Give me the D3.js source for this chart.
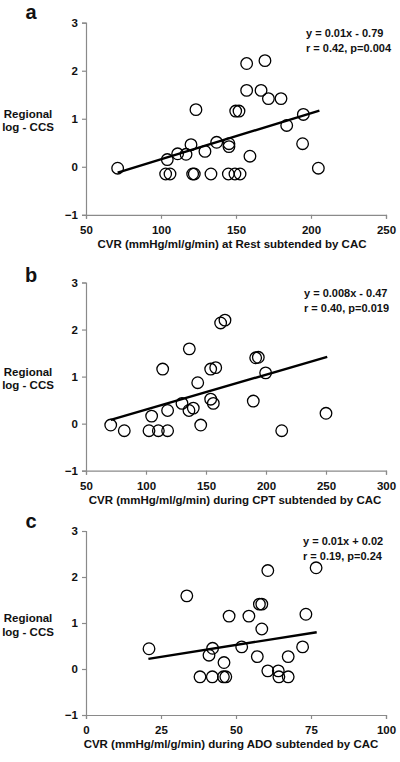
<!DOCTYPE html>
<html>
<head>
<meta charset="utf-8">
<script src="https://cdn.jsdelivr.net/npm/d3@7"></script>
<style>
  html, body { margin: 0; padding: 0; background: #fff; }
  svg { display: block; }
  text { font-family: "Liberation Sans", Arial, sans-serif; font-weight: bold; fill: #111; }
</style>
</head>
<body>
<svg id="chart" width="400" height="762"></svg>
<script>
// ---------- DATA ----------
const panelLetters = ["a", "b", "c"];
const xTitles = [
  "CVR (mmHg/ml/g/min) at Rest subtended by CAC",
  "CVR (mmHg/ml/g/min) during CPT subtended by CAC",
  "CVR (mmHg/ml/g/min) during ADO subtended by CAC"
];
const yTitleLines = ["Regional", "log - CCS"];
const equations = ["y = 0.01x - 0.79", "y = 0.008x - 0.47", "y = 0.01x + 0.02"];
const stats = ["r = 0.42, p=0.004", "r = 0.40, p=0.019", "r = 0.19, p=0.24"];
const yTicks = [-1, 0, 1, 2, 3];
const restTicks = [50, 100, 150, 200, 250];
const cptTicks = [50, 100, 150, 200, 250, 300];
const adoTicks = [0, 25, 50, 75, 100];

// Panel a: CVR at rest
const restX = [71.1, 157.1, 169.3, 157.1, 166.7, 171.6, 180.0, 123.3, 149.8, 152.0, 194.9, 183.8,
  137.1, 120.0, 145.3, 145.3, 194.4, 111.1, 116.7, 129.3, 104.2, 159.3, 204.9,
  103.1, 106.0, 121.1, 122.2, 133.3, 144.9, 149.3, 152.7];
const restY = [-0.03, 2.15, 2.21, 1.59, 1.59, 1.42, 1.42, 1.19, 1.16, 1.16, 1.09, 0.86,
  0.51, 0.46, 0.48, 0.42, 0.48, 0.27, 0.26, 0.32, 0.15, 0.22, -0.03,
  -0.15, -0.15, -0.15, -0.15, -0.15, -0.15, -0.15, -0.15];
const restFit = [[71.1, -0.12], [205.6, 1.17]];

// Panel b: CVR during CPT
const cptX = [70.6, 81.9, 102.5, 110.3, 118.0, 104.7, 118.0, 113.9, 136.1, 130.0, 135.8, 139.4,
  143.1, 145.6, 153.9, 158.1, 153.9, 156.1, 162.2, 165.8, 189.4, 191.4, 193.6, 199.7, 213.1, 250.0];
const cptY = [-0.03, -0.15, -0.15, -0.15, -0.15, 0.16, 0.28, 1.16, 1.59, 0.43, 0.28, 0.33,
  0.87, -0.03, 1.16, 1.19, 0.52, 0.43, 2.14, 2.20, 0.48, 1.40, 1.41, 1.08, -0.15, 0.22];
const cptFit = [[70.6, 0.08], [251.0, 1.42]];

// Panel c: CVR during ADO
const adoX = [21.0, 33.6, 38.0, 42.1, 45.8, 46.6, 41.0, 42.2, 46.0, 47.7, 51.9, 54.3, 57.1,
  57.8, 58.6, 58.6, 60.6, 60.6, 64.1, 64.3, 67.4, 67.4, 72.2, 73.3, 76.7];
const adoY = [0.44, 1.59, -0.17, -0.17, -0.17, -0.17, 0.30, 0.45, 0.14, 1.15, 0.48, 1.15, 0.27,
  1.41, 1.41, 0.87, 2.14, -0.04, -0.04, -0.17, -0.17, 0.27, 0.48, 1.19, 2.20];
const adoFit = [[20.8, 0.22], [76.9, 0.80]];

// ---------- LAYOUT ----------
const panels = [
  { xs: restX, ys: restY, fit: restFit, ticks: restTicks, top: 22.7, bottom: 214.8, letterY: 19, titleX: 232, eqX: 306 },
  { xs: cptX,  ys: cptY,  fit: cptFit,  ticks: cptTicks,  top: 282.5, bottom: 470.7, letterY: 282, titleX: 235, eqX: 304 },
  { xs: adoX,  ys: adoY,  fit: adoFit,  ticks: adoTicks,  top: 531, bottom: 715, letterY: 528, titleX: 231, eqX: 303 }
];
const left = 86, right = 386;
const axisColor = "#8a8a8a";

const svg = d3.select("#chart");

panels.forEach((p, i) => {
  const g = svg.append("g");
  const x = d3.scaleLinear().domain(d3.extent(p.ticks)).range([left, right]);
  const y = d3.scaleLinear().domain([-1, 3]).range([p.bottom, p.top]);

  // y axis
  const ya = g.append("g").attr("transform", `translate(${left},0)`)
    .call(d3.axisLeft(y).tickValues(yTicks).tickSize(4).tickPadding(4).tickFormat(d3.format("d")));
  // x axis
  const xa = g.append("g").attr("transform", `translate(0,${p.bottom})`)
    .call(d3.axisBottom(x).tickValues(p.ticks).tickSize(4).tickPadding(7).tickFormat(d3.format("d")));
  [ya, xa].forEach(a => {
    a.select(".domain").attr("stroke", axisColor).attr("stroke-width", 1.2);
    a.selectAll(".tick line").attr("stroke", axisColor).attr("stroke-width", 1.2);
    a.selectAll(".tick text").style("font-family", '"Liberation Sans", Arial, sans-serif')
      .style("font-weight", "bold").style("font-size", "11.5px").attr("fill", "#111");
  });

  // panel letter
  g.append("text").attr("x", 31).attr("y", p.letterY).attr("text-anchor", "middle")
    .style("font-size", "20px").text(panelLetters[i]);

  // y title
  const ymid = y(1);
  yTitleLines.forEach((t, k) => {
    g.append("text").attr("x", 28).attr("y", ymid - 1 + k * 13.5).attr("text-anchor", "middle")
      .style("font-size", "11.5px").text(t);
  });

  // x title
  g.append("text").attr("x", p.titleX).attr("y", p.bottom + 33).attr("text-anchor", "middle")
    .style("font-size", "11.5px").text(xTitles[i]);

  // equation annotation
  g.append("text").attr("x", p.eqX).attr("y", p.top + 14).style("font-size", "11px").text(equations[i]);
  g.append("text").attr("x", p.eqX).attr("y", p.top + 29).style("font-size", "11px").text(stats[i]);

  // fit line
  g.append("line")
    .attr("x1", x(p.fit[0][0])).attr("y1", y(p.fit[0][1]))
    .attr("x2", x(p.fit[1][0])).attr("y2", y(p.fit[1][1]))
    .attr("stroke", "#000").attr("stroke-width", 2.4);

  // points
  const pts = p.xs.map((v, k) => [v, p.ys[k]]);
  g.append("g").selectAll("circle").data(pts).join("circle")
    .attr("cx", d => x(d[0])).attr("cy", d => y(d[1])).attr("r", 5.8)
    .attr("fill", "none").attr("stroke", "#000").attr("stroke-width", 1.3);
});
</script>
</body>
</html>
